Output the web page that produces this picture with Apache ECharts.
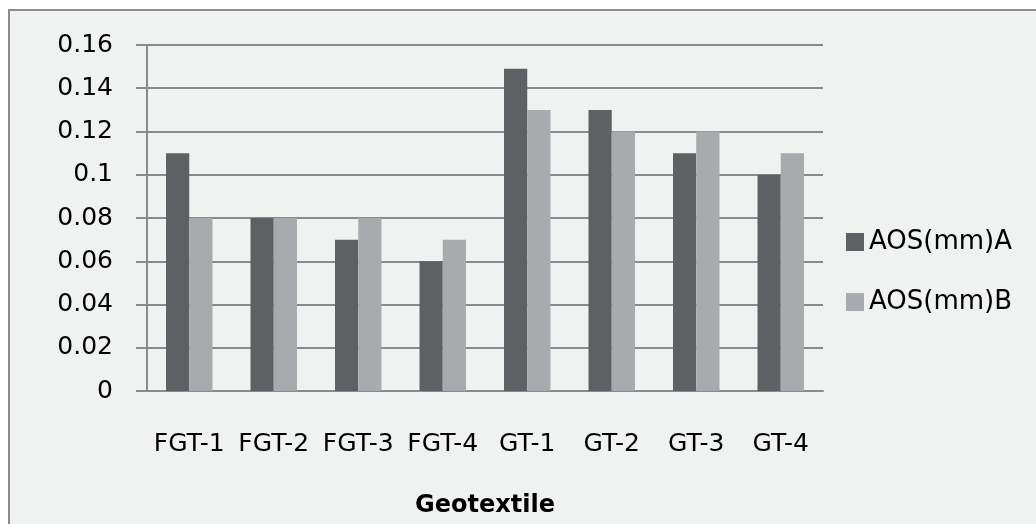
<!DOCTYPE html>
<html>
<head>
<meta charset="utf-8">
<script src="https://cdn.jsdelivr.net/npm/echarts@6/dist/echarts.min.js"></script>
<style>
  body { margin: 0; background: #fff; }
  #frame {
    position: absolute; left: 8px; top: 9px; width: 1100px; height: 600px;
    background: #f0f1f1; border: 2px solid #8b8c8f;
  }
  #chart { position: absolute; left: 0; top: 0; width: 1036px; height: 524px; }
</style>
</head>
<body>
<div id="frame"></div>
<div id="chart"></div>
<script>
var categories = ["FGT-1", "FGT-2", "FGT-3", "FGT-4", "GT-1", "GT-2", "GT-3", "GT-4"];
var aosA = [0.11, 0.08, 0.07, 0.06, 0.149, 0.13, 0.11, 0.10];
var aosB = [0.08, 0.08, 0.08, 0.07, 0.13, 0.12, 0.12, 0.11];
var yTicks = [0, 0.02, 0.04, 0.06, 0.08, 0.1, 0.12, 0.14, 0.16];

var myChart = echarts.init(document.getElementById("chart"));

var lineColor = "#898a8d";
var font = "DejaVu Sans";

var option = {
  backgroundColor: "transparent",
  animation: false,
  textStyle: { fontFamily: font, color: "#000" },
  grid: { left: 147, right: 213, top: 45, bottom: 133 },
  legend: {
    orient: "vertical",
    left: 841,
    top: 224,
    itemWidth: 18,
    itemHeight: 18,
    itemGap: 34,
    icon: "rect",
    textStyle: { fontFamily: font, fontSize: 26, color: "#000" },
    data: ["AOS(mm)A", "AOS(mm)B"],
  },
  xAxis: {
    type: "category",
    data: categories,
    name: "Geotextile",
    nameLocation: "middle",
    nameGap: 103,
    nameTextStyle: { fontFamily: font, fontSize: 24, fontWeight: "bold", color: "#000" },
    axisLine: { lineStyle: { color: lineColor, width: 2 } },
    axisTick: { length: 10, lineStyle: { color: lineColor, width: 2 } },
    axisLabel: { fontSize: 25, color: "#000", margin: 41, interval: 0 },
  },
  yAxis: {
    type: "value",
    min: 0,
    max: 0.16,
    interval: 0.02,
    axisLine: { show: true, lineStyle: { color: lineColor, width: 2 } },
    axisTick: { show: true, length: 11, lineStyle: { color: lineColor, width: 2 } },
    splitLine: { lineStyle: { color: lineColor, width: 2 } },
    axisLabel: {
      fontSize: 25,
      color: "#000",
      margin: 34,
      formatter: function (v) {
        var i = yTicks.findIndex(function (t) { return Math.abs(t - v) < 1e-9; });
        return i >= 0 ? String(yTicks[i]) : "";
      },
    },
  },
  series: [
    {
      name: "AOS(mm)A",
      type: "bar",
      data: aosA,
      barGap: "0%",
      barCategoryGap: "45%",
      itemStyle: { color: "#5f6064" },
    },
    {
      name: "AOS(mm)B",
      type: "bar",
      data: aosB,
      barGap: "0%",
      barCategoryGap: "45%",
      itemStyle: { color: "#a8aaad" },
    },
  ],
};

myChart.setOption(option);
</script>
</body>
</html>
